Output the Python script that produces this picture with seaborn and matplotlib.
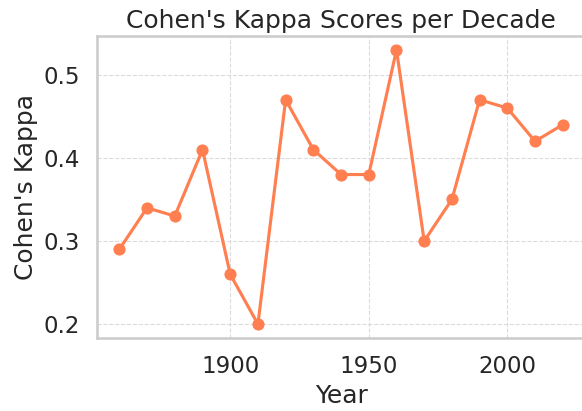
import numpy as np
import matplotlib
matplotlib.use("Agg")
import matplotlib.pyplot as plt
import seaborn as sns
import pandas as pd

sns.set_theme(style="whitegrid", context="talk")

years = [1860, 1870, 1880, 1890, 1900, 1910, 1920, 1930, 1940,
         1950, 1960, 1970, 1980, 1990, 2000, 2010, 2020]
kappa = [0.29, 0.34, 0.33, 0.41, 0.26, 0.20, 0.47, 0.41, 0.38,
         0.38, 0.53, 0.30, 0.35, 0.47, 0.46, 0.42, 0.44]

data = pd.DataFrame({"Year": years, "Kappa": kappa})

fig, ax = plt.subplots(figsize=(5.82, 4.11), dpi=100)
sns.lineplot(data=data, x="Year", y="Kappa", marker="o", color="coral",
             markeredgecolor="coral", markersize=8, ax=ax)
ax.grid(True, linestyle="--", linewidth=0.8, alpha=0.7)
ax.set_title("Cohen's Kappa Scores per Decade")
ax.set_xlabel("Year")
ax.set_ylabel("Cohen's Kappa")
ax.set_yticks([0.2, 0.3, 0.4, 0.5])

fig.subplots_adjust(left=0.167, right=1.005, top=0.912, bottom=0.178)
fig.savefig("out.png", dpi=100)
